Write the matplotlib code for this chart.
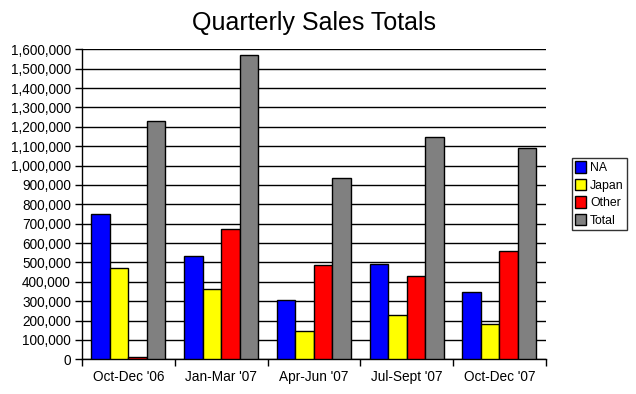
import numpy as np
import matplotlib
matplotlib.use("Agg")
import matplotlib.pyplot as plt
from matplotlib.ticker import FuncFormatter, FixedLocator

plt.rcParams["font.family"] = ["Liberation Sans", "DejaVu Sans"]

quarters = ["Oct-Dec '06", "Jan-Mar '07", "Apr-Jun '07", "Jul-Sept '07", "Oct-Dec '07"]
na = [749000, 533000, 304000, 493000, 347000]
japan = [471000, 362000, 144000, 228000, 183000]
other = [13000, 672000, 486000, 429000, 558000]
total = [1232000, 1570000, 938000, 1147000, 1092000]

series = [("NA", na, "#0000ff"), ("Japan", japan, "#ffff00"),
          ("Other", other, "#ff0000"), ("Total", total, "#808080")]

fig = plt.figure(figsize=(6.36, 3.94), dpi=100)
ax = fig.add_axes([0.129, 0.088, 0.729, 0.787])

x = np.arange(len(quarters))
width = 0.2
for i, (name, vals, color) in enumerate(series):
    ax.bar(x - 0.3 + i * width, vals, width, color=color, edgecolor="black",
           linewidth=1, label=name, zorder=3)

ax.set_xlim(-0.5, len(quarters) - 0.5)
ax.set_ylim(0, 1600000)
ax.set_yticks(np.arange(0, 1600001, 100000))
ax.yaxis.set_major_formatter(FuncFormatter(lambda v, p: f"{int(v):,}"))
ax.yaxis.grid(True, color="black", linewidth=1)
ax.set_axisbelow(True)

# category boundaries carry the tick marks, centres carry the labels
ax.xaxis.set_major_locator(FixedLocator(np.arange(-0.5, len(quarters), 1)))
ax.xaxis.set_minor_locator(FixedLocator(x))
ax.set_xticklabels([])
ax.set_xticklabels(quarters, minor=True)
ax.tick_params(axis="x", which="minor", length=0, pad=8, labelsize=9.8)
ax.tick_params(axis="x", which="major", length=5, width=1, color="black")
ax.tick_params(axis="y", length=5, width=1, labelsize=9.8, pad=3)

for s in ["top", "right"]:
    ax.spines[s].set_visible(False)
for s in ["left", "bottom"]:
    ax.spines[s].set_color("black")
    ax.spines[s].set_linewidth(1)

ax.set_title("Quarterly Sales Totals", fontsize=18, pad=14)

leg = ax.legend(loc="upper left", bbox_to_anchor=(1.056, 0.65), frameon=True,
                fancybox=False, edgecolor="black", fontsize=8.8,
                handlelength=0.9, handleheight=1.05, handletextpad=0.3,
                borderpad=0.3, labelspacing=0.38, borderaxespad=0)
leg.get_frame().set_linewidth(1)

fig.savefig("out.png", dpi=100)
